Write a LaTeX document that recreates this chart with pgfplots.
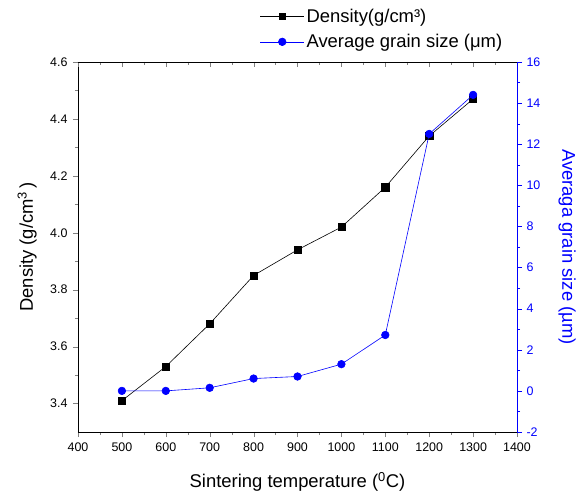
\documentclass[border=0pt]{standalone}
\usepackage{pgfplots}
\pgfplotsset{compat=1.18}
\usepackage{fontspec}
\setmainfont{Liberation Sans}
\begin{document}
\begin{tikzpicture}
\path[use as bounding box] (-78bp,-63bp) rectangle (498bp,432bp);
\pgfplotsset{
  every axis/.append style={
    scale only axis, width=439bp, height=370bp,
    xmin=400, xmax=1400,
    /pgf/number format/assume math mode=true,
    tick label style={font=\fontsize{12.5}{14}\selectfont},
    label style={font=\fontsize{18.5}{22}\selectfont},
    major tick length=5bp, minor tick length=3bp,
  }
}
% main axis: density (left), bottom x
\begin{axis}[
  axis x line*=bottom, axis y line*=left,
  tick align=outside,
  ymin=3.3, ymax=4.6,
  xtick={400,500,...,1400},
  minor x tick num=1,
  ytick={3.4,3.6,...,4.6},
  minor y tick num=1,
  xticklabel style={/pgf/number format/1000 sep={}, yshift=-2bp},
  yticklabel style={/pgf/number format/fixed, /pgf/number format/fixed zerofill, /pgf/number format/precision=1, xshift=-2bp},
  xlabel={Sintering temperature (\textsuperscript{0}C)},
  ylabel={Density (g/cm\textsuperscript{3}\,)},
  xlabel style={at={(axis description cs:0.5,-0.134)}, anchor=center},
  ylabel style={at={(axis description cs:-0.116,0.5)}, anchor=center},
]
\addplot[black, line width=0.6bp, mark=square*, mark size=3.6bp] coordinates {
(500,3.41) (600,3.53) (700,3.68) (800,3.85) (900,3.94) (1000,4.02) (1100,4.16) (1200,4.34) (1300,4.47)
};
\end{axis}
% top axis line with inward ticks
\begin{axis}[
  axis x line*=top, axis y line=none,
  tick align=inside,
  ymin=0, ymax=1,
  xtick={400,500,...,1400},
  minor x tick num=1,
  xticklabels={},
]
\end{axis}
% right axis: grain size
\begin{axis}[
  axis x line=none, axis y line*=right,
  tick align=outside,
  ymin=-2, ymax=16,
  ytick={-2,0,...,16},
  minor y tick num=1,
  y axis line style={blue},
  every y tick/.style={blue},
  every minor y tick/.style={blue},
  yticklabel style={blue, xshift=1bp},
  ylabel={Averaga grain size (\textmu m)},
  ylabel style={blue, rotate=180, at={(axis description cs:1.114,0.5)}, anchor=center},
  legend style={at={(axis description cs:0.414,1.149)}, anchor=north west, draw=none, fill=none,
    font=\fontsize{18.5}{22}\selectfont, row sep=6.5bp, inner sep=0bp,
    nodes={inner sep=2bp}, cells={anchor=west}},
  legend image code/.code={\draw[mark repeat=2,mark phase=2,#1] plot coordinates {(0bp,0bp) (22bp,0bp) (44bp,0bp)};},
]
\addlegendimage{black, line width=0.6bp, mark=square*, mark size=3bp}
\addlegendentry{Density(g/cm³)}
\addplot[blue, line width=0.6bp, mark=*, mark size=3.8bp] coordinates {
(500,0.0) (600,0.0) (700,0.15) (800,0.6) (900,0.7) (1000,1.3) (1100,2.72) (1200,12.5) (1300,14.4)
};
\addlegendentry{Average grain size (μm)}
\end{axis}
\end{tikzpicture}
\end{document}
